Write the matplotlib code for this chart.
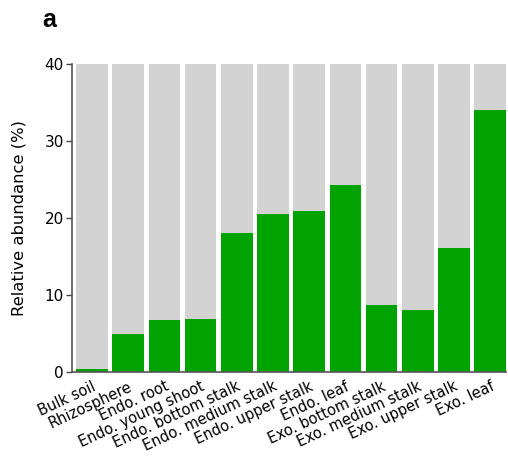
import numpy as np
import matplotlib
matplotlib.use('Agg')
import matplotlib.pyplot as plt

plt.rcParams['font.family'] = ['DejaVu Sans']

samples = ['Bulk soil', 'Rhizosphere', 'Endo. root', 'Endo. young shoot',
           'Endo. bottom stalk', 'Endo. medium stalk', 'Endo. upper stalk',
           'Endo. leaf', 'Exo. bottom stalk', 'Exo. medium stalk',
           'Exo. upper stalk', 'Exo. leaf']
abundance = [0.4, 4.9, 6.75, 6.9, 18.05, 20.5, 20.9, 24.3, 8.7, 8.05, 16.1, 34.0]
y_max = 40

fig = plt.figure(figsize=(5.08, 4.69), dpi=100)
ax = fig.add_axes([0.142, 0.207, 0.854, 0.657])

x = np.arange(len(samples))
w = 0.87
ax.bar(x, [y_max] * len(samples), width=w, color='#d3d3d3', zorder=1)
ax.bar(x, abundance, width=w, color='#00a300', zorder=2)

ax.set_xlim(-0.55, len(samples) - 1 + w / 2)
ax.set_ylim(0, y_max)
ax.set_yticks([0, 10, 20, 30, 40])
ax.tick_params(axis='y', labelsize=11, length=4, width=1, color='#444444', pad=2)
ax.tick_params(axis='x', length=0, pad=5)
ax.set_xticks(x)
ax.set_xticklabels(samples, rotation=25, ha='right', rotation_mode='anchor',
                   fontsize=10.5)

for s in ['top', 'right']:
    ax.spines[s].set_visible(False)
for s in ['left', 'bottom']:
    ax.spines[s].set_color('#555555')
    ax.spines[s].set_linewidth(1.2)

ax.set_ylabel('Relative abundance (%)', fontsize=11.8)
ax.yaxis.set_label_coords(-0.105, 0.5)
fig.text(0.083, 0.942, 'a', fontsize=18, fontweight='bold',
         family=['Liberation Sans', 'DejaVu Sans'])

fig.savefig('out.png', dpi=100)
